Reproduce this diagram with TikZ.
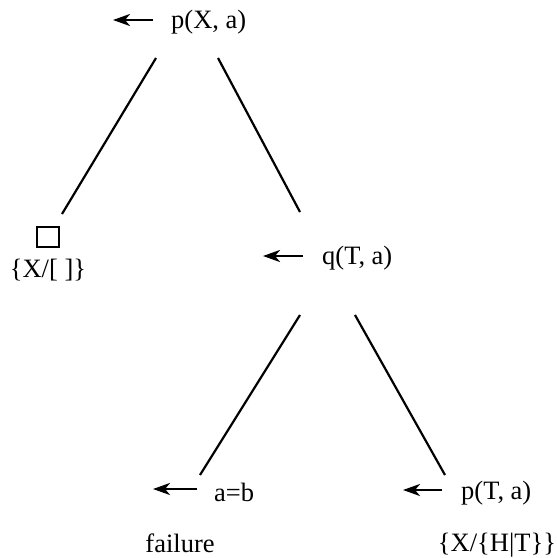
\documentclass[tikz,border=0pt]{standalone}
\usepackage{fontspec}
\setmainfont{Liberation Serif}
\usetikzlibrary{arrows.meta}
\begin{document}
\begin{tikzpicture}[x=1pt,y=-1pt,
  lbl/.style={inner sep=0pt,font=\fontsize{26.5}{30}\selectfont},
  edge/.style={line width=2.2pt},
  sel/.style={line width=2.8pt,-{Stealth[length=17pt,width=12pt,inset=5pt]}}]
\useasboundingbox (0,0) rectangle (557,558);
\node[lbl,anchor=west] (p1) at (171,22) {p(X, a)};
\coordinate (p1a) at (153,20);
\coordinate (p1b) at (113,20);
\draw[sel] (p1a) -- (p1b);
\coordinate (p1l) at (156,58);
\coordinate (p1r) at (218,58);
\node[draw,line width=2pt,minimum width=22pt,minimum height=20pt,inner sep=0pt] (box) at (48,237) {};
\node[lbl] (sub1) at (48,270) {\{X/[ ]\}};
\coordinate (boxt) at (62,214);
\draw[edge] (p1l) -- (boxt);
\node[lbl,anchor=west] (q) at (322,258) {q(T, a)};
\coordinate (qa) at (303,256);
\coordinate (qb) at (263,256);
\draw[sel] (qa) -- (qb);
\coordinate (qt) at (300,212);
\draw[edge] (p1r) -- (qt);
\coordinate (ql) at (300,315);
\coordinate (qr) at (355,315);
\coordinate (ab) at (200,475);
\coordinate (pb) at (445,475);
\draw[edge] (ql) -- (ab);
\draw[edge] (qr) -- (pb);
\node[lbl,anchor=west] (eq) at (214,492) {a=b};
\coordinate (eqa) at (197,489);
\coordinate (eqb) at (153,489);
\draw[sel] (eqa) -- (eqb);
\node[lbl] (fail) at (180,543) {failure};
\node[lbl,anchor=west] (p2) at (461,493) {p(T, a)};
\coordinate (p2a) at (442,490);
\coordinate (p2b) at (403,490);
\draw[sel] (p2a) -- (p2b);
\node[lbl] (sub2) at (497,545) {\{X/\{H|T\}\}};
\end{tikzpicture}
\end{document}
